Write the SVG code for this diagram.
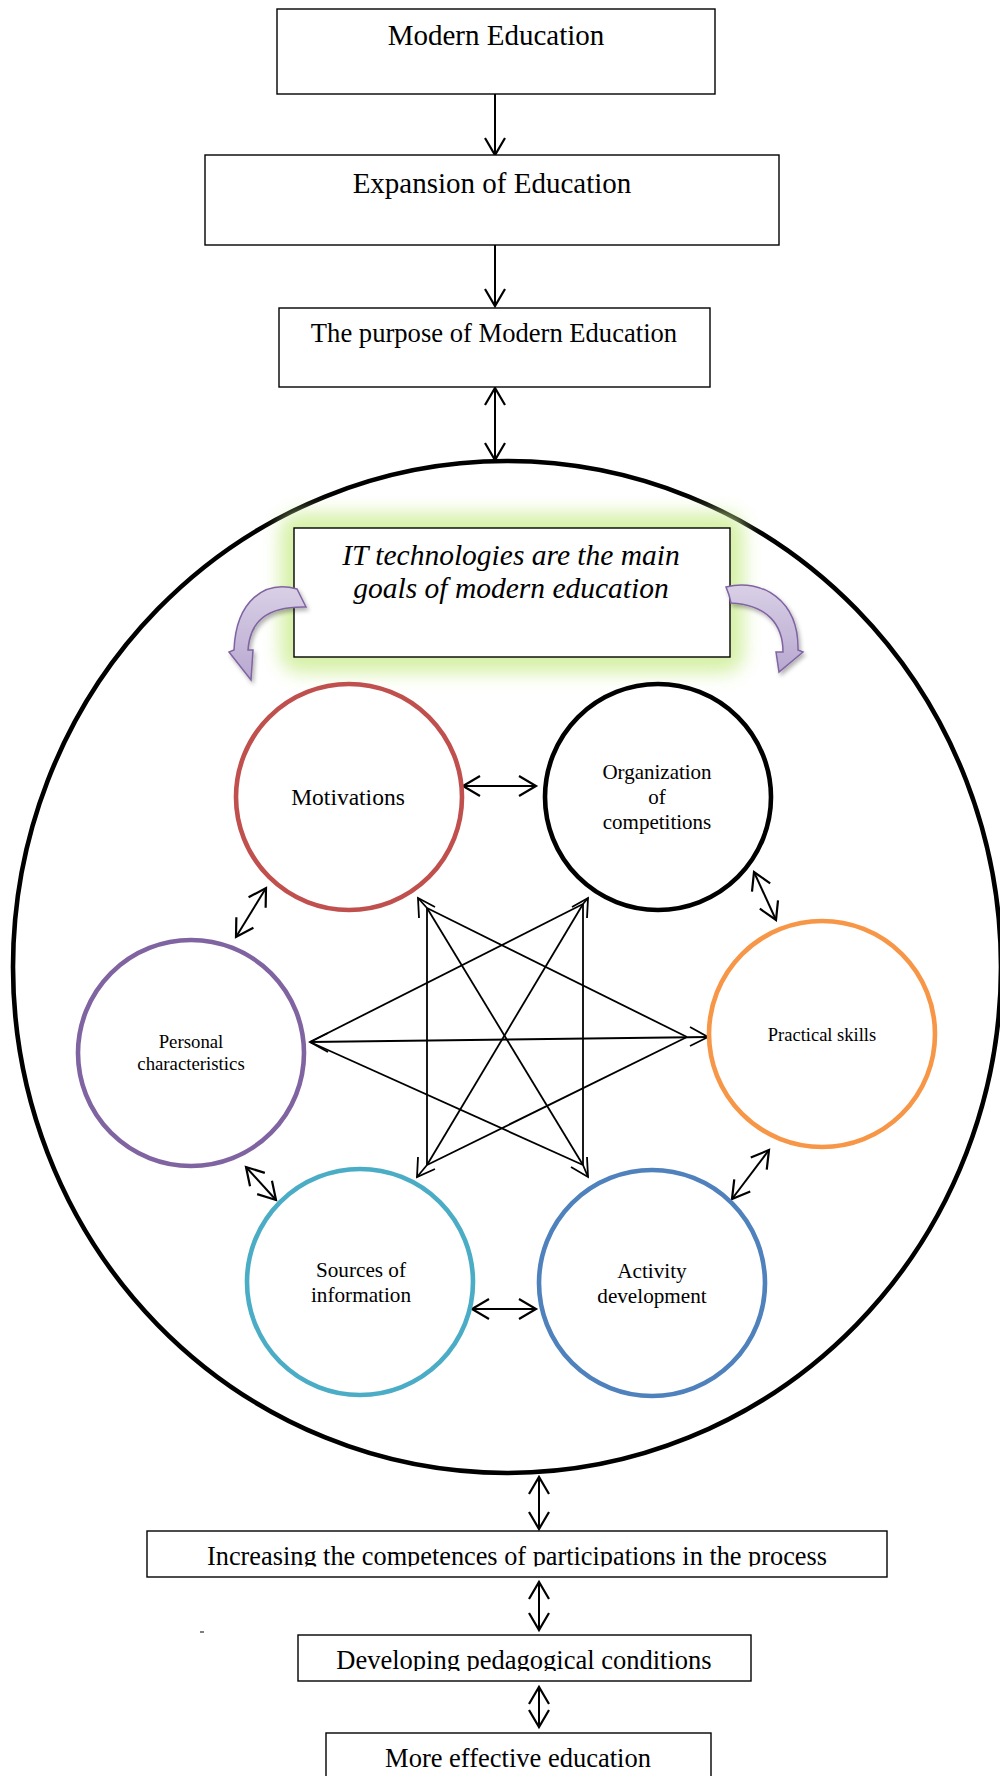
<svg xmlns="http://www.w3.org/2000/svg" width="1000" height="1776" viewBox="0 0 1000 1776">
<style>
.box{fill:#fff;stroke:#000;stroke-width:1.4}
.t{font-family:"Liberation Serif","Times New Roman",serif;fill:#000;text-anchor:middle}
.ln{stroke:#000;stroke-width:2;fill:none}
.st{stroke:#000;stroke-width:1.8;fill:none}
.ring{fill:#fff;stroke-width:4.6}
.cur{fill:url(#lav);stroke:#8064A2;stroke-width:1.5;filter:url(#sh)}
</style>
<defs>
<marker id="ah" viewBox="-2 -12 22 24" refX="17" refY="0" markerWidth="22" markerHeight="24" markerUnits="userSpaceOnUse" orient="auto-start-reverse">
<path d="M0,-10 L17,0 L0,10" fill="none" stroke="#000" stroke-width="2.2"/>
</marker>
<filter id="glow" x="-20%" y="-40%" width="140%" height="180%">
<feGaussianBlur stdDeviation="9"/>
</filter>
<filter id="sh" x="-30%" y="-30%" width="160%" height="160%">
<feDropShadow dx="2" dy="3" stdDeviation="2" flood-color="#000" flood-opacity="0.3"/>
</filter>
<linearGradient id="lav" x1="0" y1="0" x2="0" y2="1">
<stop offset="0" stop-color="#D9D0E6"/>
<stop offset="1" stop-color="#B8A8D0"/>
</linearGradient>
<clipPath id="c1"><rect x="140" y="1530" width="760" height="36.5"/></clipPath>
<clipPath id="c2"><rect x="290" y="1634" width="470" height="37"/></clipPath>
</defs>

<g id="connectors">
<line class="ln" x1="495" y1="94" x2="495" y2="155" marker-end="url(#ah)"/>
<line class="ln" x1="495" y1="245" x2="495" y2="306" marker-end="url(#ah)"/>
<line class="ln" x1="495" y1="388" x2="495" y2="460" marker-start="url(#ah)" marker-end="url(#ah)"/>
<line class="ln" x1="539" y1="1477" x2="539" y2="1529" marker-start="url(#ah)" marker-end="url(#ah)"/>
<line class="ln" x1="539" y1="1582" x2="539" y2="1630" marker-start="url(#ah)" marker-end="url(#ah)"/>
<line class="ln" x1="539" y1="1687" x2="539" y2="1727" marker-start="url(#ah)" marker-end="url(#ah)"/>
</g>

<g id="outer-circle">
<ellipse cx="507" cy="967" rx="494" ry="506" fill="none" stroke="#000" stroke-width="4.6"/>
</g>

<g id="node-modern-education">
<rect class="box" x="277" y="9" width="438" height="85"/>
<text class="t" x="496" y="45" font-size="29">Modern Education</text>
</g>
<g id="node-expansion">
<rect class="box" x="205" y="155" width="574" height="90"/>
<text class="t" x="492" y="193" font-size="29">Expansion of Education</text>
</g>
<g id="node-purpose">
<rect class="box" x="279" y="308" width="431" height="79"/>
<text class="t" x="494" y="342" font-size="26.6">The purpose of Modern Education</text>
</g>

<g id="node-it">
<rect x="280" y="513" width="464" height="160" rx="20" fill="#CFEE98" filter="url(#glow)" opacity="0.85"/>
<rect class="box" x="294" y="528" width="436" height="129"/>
<text class="t" x="511" y="565" font-size="29.5" font-style="italic">IT technologies are the main</text>
<text class="t" x="511" y="598" font-size="29.5" font-style="italic">goals of modern education</text>
</g>

<g id="curved-arrows">
<path class="cur" d="M297,589 C265,580 236,600 234,650 L229,652 L251,680 L253,650 L248,650 C250,622 266,606 306,607 L302,599 Z"/>
<path class="cur" d="M726,587 C762,578 799,600 798,650 L803,652 L779,672 L776,652 L783,652 C783,625 768,605 731,603 L729,595 Z"/>
</g>

<g id="star-connectors">
<line class="st" x1="427" y1="908" x2="427" y2="1165"/>
<line class="st" x1="427" y1="908" x2="583" y2="1165"/>
<line class="st" x1="427" y1="908" x2="687" y2="1037"/>
<line class="st" x1="583" y1="904" x2="583" y2="1165"/>
<line class="st" x1="583" y1="904" x2="427" y2="1165"/>
<line class="st" x1="583" y1="904" x2="310" y2="1042"/>
<line class="st" x1="310" y1="1042" x2="708" y2="1037" stroke-width="2.6"/>
<line class="st" x1="310" y1="1042" x2="583" y2="1165"/>
<line class="st" x1="687" y1="1037" x2="427" y2="1165"/>
<polyline class="st" points="435,907 418,898 419,918"/>
<line class="st" x1="418" y1="898" x2="427" y2="908"/>
<polyline class="st" points="572,907 588,898 587,918"/>
<line class="st" x1="588" y1="898" x2="583" y2="904"/>
<polyline class="st" points="328,1033 310,1042 328,1052"/>
<polyline class="st" points="690,1027 708,1037 690,1046"/>
<polyline class="st" points="418,1157 417,1177 435,1169"/>
<line class="st" x1="417" y1="1177" x2="427" y2="1165"/>
<polyline class="st" points="587,1157 588,1177 571,1167"/>
<line class="st" x1="588" y1="1177" x2="583" y2="1165"/>
</g>

<g id="ring-connectors">
<line class="ln" x1="463" y1="786" x2="536" y2="786" marker-start="url(#ah)" marker-end="url(#ah)"/>
<line class="ln" x1="266" y1="888" x2="236" y2="937" marker-start="url(#ah)" marker-end="url(#ah)"/>
<line class="ln" x1="754" y1="872" x2="776" y2="920" marker-start="url(#ah)" marker-end="url(#ah)"/>
<line class="ln" x1="769" y1="1150" x2="732" y2="1199" marker-start="url(#ah)" marker-end="url(#ah)"/>
<line class="ln" x1="246" y1="1167" x2="276" y2="1200" marker-start="url(#ah)" marker-end="url(#ah)"/>
<line class="ln" x1="472" y1="1309" x2="536" y2="1309" marker-start="url(#ah)" marker-end="url(#ah)"/>
</g>

<g id="node-motivations">
<circle class="ring" cx="349" cy="797" r="113" stroke="#C0504D"/>
<text class="t" x="348" y="805" font-size="23.5">Motivations</text>
</g>
<g id="node-organization">
<circle class="ring" cx="658" cy="797" r="113" stroke="#000"/>
<text class="t" x="657" y="779" font-size="21">Organization</text>
<text class="t" x="657" y="804" font-size="21">of</text>
<text class="t" x="657" y="829" font-size="21">competitions</text>
</g>
<g id="node-practical">
<circle class="ring" cx="822" cy="1034" r="113" stroke="#F79646"/>
<text class="t" x="822" y="1041" font-size="18.5">Practical skills</text>
</g>
<g id="node-personal">
<circle class="ring" cx="191" cy="1053" r="113" stroke="#8064A2"/>
<text class="t" x="191" y="1048" font-size="18.8">Personal</text>
<text class="t" x="191" y="1070" font-size="18.8">characteristics</text>
</g>
<g id="node-sources">
<circle class="ring" cx="360" cy="1282" r="113" stroke="#4BACC6"/>
<text class="t" x="361" y="1277" font-size="21.2">Sources of</text>
<text class="t" x="361" y="1302" font-size="21.2">information</text>
</g>
<g id="node-activity">
<circle class="ring" cx="652" cy="1283" r="113" stroke="#4F81BD"/>
<text class="t" x="652" y="1278" font-size="21.2">Activity</text>
<text class="t" x="652" y="1303" font-size="21.2">development</text>
</g>

<g id="node-increasing">
<rect class="box" x="147" y="1531" width="740" height="46"/>
<text class="t" x="517" y="1565" font-size="26.3" clip-path="url(#c1)">Increasing the competences of participations in the process</text>
</g>
<line x1="200" y1="1632" x2="204" y2="1632" stroke="#555" stroke-width="1.5"/>
<g id="node-developing">
<rect class="box" x="298" y="1635" width="453" height="46"/>
<text class="t" x="524" y="1669" font-size="26.5" clip-path="url(#c2)">Developing pedagogical conditions</text>
</g>
<g id="node-effective">
<rect class="box" x="326" y="1733" width="385" height="60"/>
<text class="t" x="518" y="1767" font-size="26.5">More effective education</text>
</g>
</svg>
